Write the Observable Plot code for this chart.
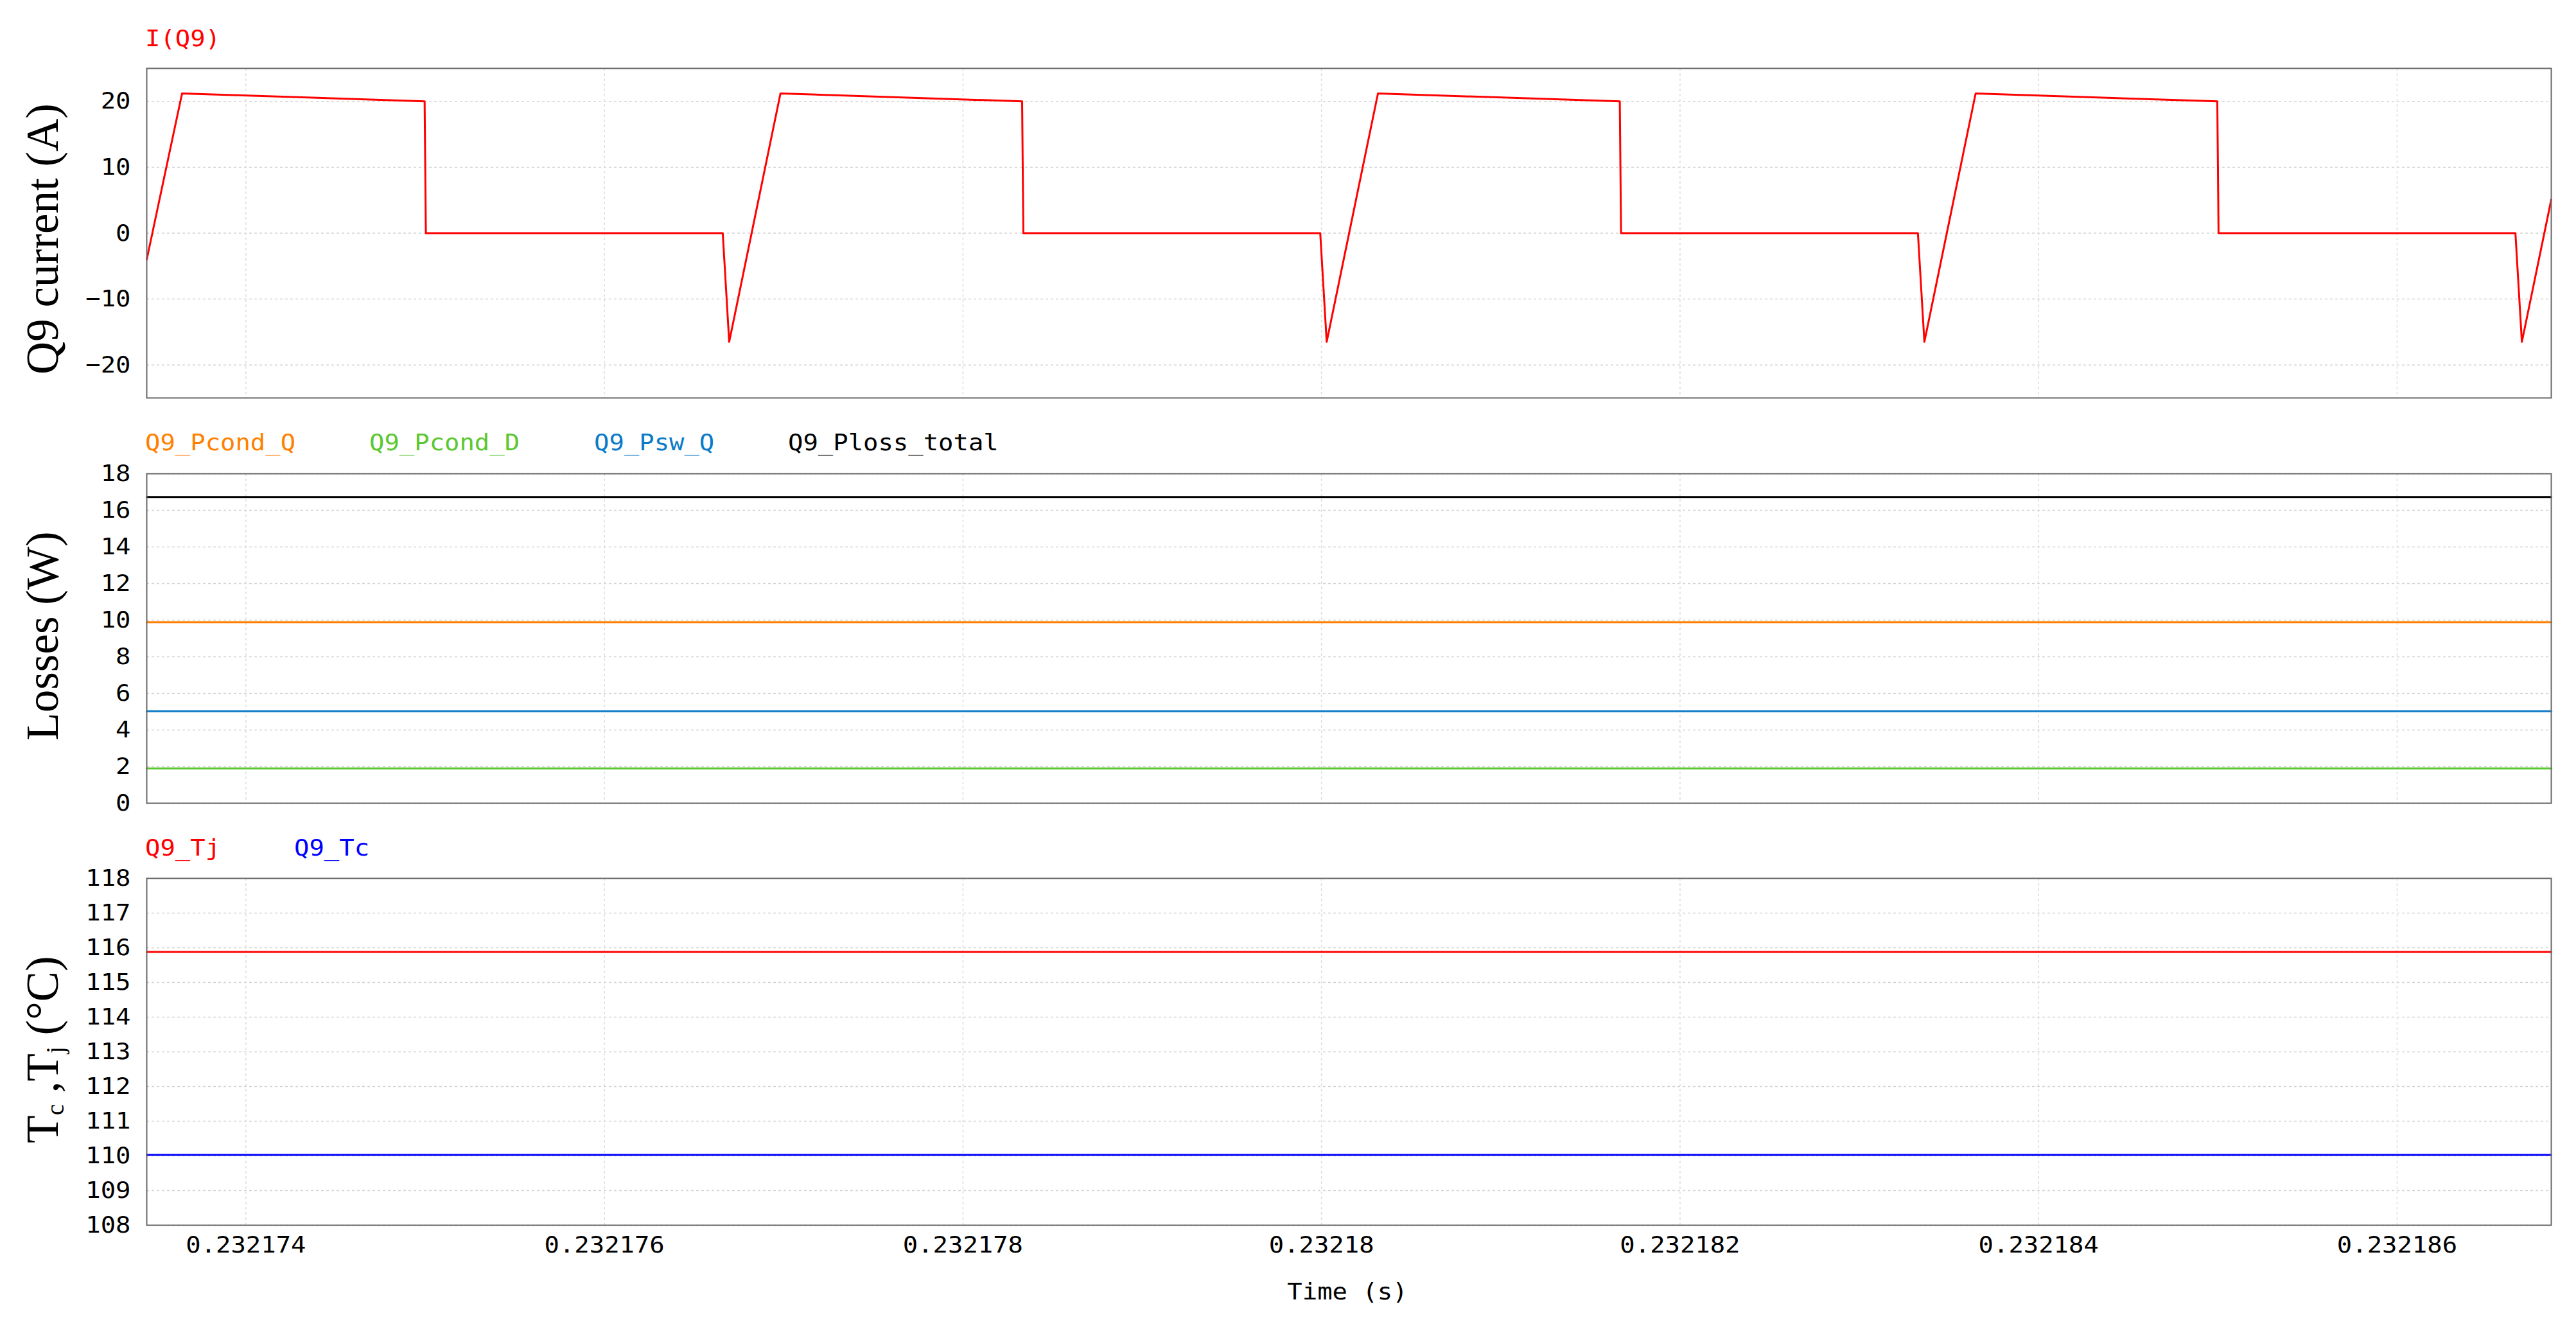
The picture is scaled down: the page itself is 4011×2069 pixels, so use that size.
<!DOCTYPE html>
<html>
<head>
<meta charset="utf-8">
<script src="https://cdn.jsdelivr.net/npm/d3@7"></script>
<script src="https://cdn.jsdelivr.net/npm/@observablehq/plot@0.6"></script>
<style>
html, body { margin: 0; padding: 0; background: #fff; }
#page { position: relative; width: 4011px; height: 2069px; overflow: hidden; background: #fff; }
.panel { position: absolute; left: 0; }
.leg { position: absolute; font-family: "DejaVu Sans Mono", monospace; font-size: 36px; line-height: 36px;
       white-space: nowrap; transform: scaleX(1.08); transform-origin: 0 0; }
.xlabel { position: absolute; font-family: "DejaVu Sans Mono", monospace; font-size: 36px; line-height: 36px;
          white-space: nowrap; transform: translateX(-50%) scaleX(1.08); color: #000; }
.ytitle { position: absolute; font-family: "Liberation Serif", "Times New Roman", serif; font-size: 71px; line-height: 71px;
          white-space: nowrap; transform: translate(-50%, -50%) rotate(-90deg); color: #000; }
.ytitle sub { font-size: 0.55em; vertical-align: baseline; position: relative; top: 0.22em; line-height: 0; }
</style>
</head>
<body>
<div id="page"></div>
<script>
// ---------- data ----------
// Time axis (s)
const timeSpan = [0.232173447, 0.23218686];
const xTicks = [0.232174, 0.232176, 0.232178, 0.23218, 0.232182, 0.232184, 0.232186];
const xTickLabels = ["0.232174", "0.232176", "0.232178", "0.23218", "0.232182", "0.232184", "0.232186"];

// Panel 1: I(Q9) breakpoints
const timeS = [
  0.232173447, 0.232173525, 0.232173644, 0.232174997, 0.232175004, 0.232176660, 0.232176696, 0.232176862, 0.232176982,
  0.232178330, 0.232178337, 0.232179993, 0.232180029, 0.232180195, 0.232180315,
  0.232181664, 0.232181671, 0.232183327, 0.232183363, 0.232183529, 0.232183649,
  0.232184997, 0.232185004, 0.232186660, 0.232186696, 0.232186860
];
const currentA = [
  -4.0, 6.0, 21.2, 20.0, 0, 0, -16.5, 5.4, 21.2,
  20.0, 0, 0, -16.5, 5.4, 21.2,
  20.0, 0, 0, -16.5, 5.4, 21.2,
  20.0, 0, 0, -16.5, 5.1
];
const yTicks1 = [-20, -10, 0, 10, 20];

// Panel 2: losses (W)
const lossNames = ["Q9_Pcond_Q", "Q9_Pcond_D", "Q9_Psw_Q", "Q9_Ploss_total"];
const lossColors = ["#ff8000", "#5ac832", "#0a7ac8", "#000000"];
const pcondQ = [9.89, 9.89];
const pcondD = [1.90, 1.90];
const pswQ = [5.03, 5.03];
const plossTotal = [16.73, 16.73];
const yTicks2 = [0, 2, 4, 6, 8, 10, 12, 14, 16, 18];

// Panel 3: temperatures (°C)
const tempNames = ["Q9_Tj", "Q9_Tc"];
const tempColors = ["#ff0000", "#0000ff"];
const tj = [115.88, 115.88];
const tc = [110.03, 110.03];
const yTicks3 = [108, 109, 110, 111, 112, 113, 114, 115, 116, 117, 118];

// ---------- helpers ----------
const page = document.getElementById("page");
const W = 4011;
const fmtX = d => xTickLabels[d3.minIndex(xTicks, t => Math.abs(t - d))];

function series(values) {
  return timeSpan.map((t, i) => ({ t, v: values[i] }));
}

function stretchText(svg, s) {
  svg.querySelectorAll("text").forEach(t => {
    const tr = t.getAttribute("transform");
    if (tr) t.setAttribute("transform", tr + ` scale(${s},1)`);
    else {
      const x = +(t.getAttribute("x") || 0);
      t.setAttribute("transform", `translate(${x},0) scale(${s},1) translate(${-x},0)`);
    }
  });
}

function panel({ top, height, marginTop, marginBottom, yDomain, yTicks, marks, showX }) {
  const svg = Plot.plot({
    width: W,
    height,
    marginLeft: 228,
    marginRight: 39,
    marginTop,
    marginBottom,
    style: { fontFamily: "DejaVu Sans Mono, monospace", fontSize: "36px", color: "#000", background: "transparent", overflow: "visible" },
    x: { domain: timeSpan, axis: showX ? "bottom" : null, ticks: xTicks, tickFormat: fmtX, tickSize: 0, tickPadding: 17, label: null },
    y: { domain: yDomain, ticks: yTicks, tickSize: 0, tickPadding: 25, label: null },
    marks: [
      Plot.ruleY(yTicks, { stroke: "#d2d2d2", strokeWidth: 1.5, strokeDasharray: "4,4" }),
      Plot.ruleX(xTicks, { stroke: "#d8e2d1", strokeWidth: 1.5, strokeDasharray: "4,4" }),
      ...marks,
      Plot.frame({ stroke: "#666", strokeWidth: 2 })
    ]
  });
  stretchText(svg, 1.08);
  const div = document.createElement("div");
  div.className = "panel";
  div.style.top = top + "px";
  div.appendChild(svg);
  page.appendChild(div);
}

function addDiv(cls, html, left, top, color) {
  const d = document.createElement("div");
  d.className = cls;
  d.innerHTML = html;
  d.style.left = left + "px";
  d.style.top = top + "px";
  if (color) d.style.color = color;
  page.appendChild(d);
}

// ---------- panel 1 ----------
const iq9 = timeS.map((t, i) => ({ t, v: currentA[i] }));
panel({
  top: 0, height: 625, marginTop: 106, marginBottom: 6,
  yDomain: [-25, 25], yTicks: yTicks1, showX: false,
  marks: [Plot.line(iq9, { x: "t", y: "v", stroke: "#ff0000", strokeWidth: 3 })]
});

// ---------- panel 2 ----------
const lossSeries = [pcondQ, pcondD, pswQ, plossTotal];
panel({
  top: 625, height: 626, marginTop: 112, marginBottom: 1,
  yDomain: [0, 18], yTicks: yTicks2, showX: false,
  marks: lossSeries.map((s, k) => Plot.line(series(s), { x: "t", y: "v", stroke: lossColors[k], strokeWidth: 3 }))
});

// ---------- panel 3 ----------
const tempSeries = [tj, tc];
panel({
  top: 1251, height: 818, marginTop: 116, marginBottom: 162,
  yDomain: [108, 118], yTicks: yTicks3, showX: true,
  marks: tempSeries.map((s, k) => Plot.line(series(s), { x: "t", y: "v", stroke: tempColors[k], strokeWidth: 3 }))
});

// ---------- legends / titles ----------
addDiv("leg", "I(Q9)", 226, 42, "#ff0000");
const lossLeft = [226, 575, 925, 1227];
lossNames.forEach((n, k) => addDiv("leg", n, lossLeft[k], 671, lossColors[k]));
const tempLeft = [226, 458];
tempNames.forEach((n, k) => addDiv("leg", n, tempLeft[k], 1302, tempColors[k]));
addDiv("xlabel", "Time (s)", 2098, 1993);

addDiv("ytitle", "Q9 current (A)", 66, 372);
addDiv("ytitle", "Losses (W)", 66, 990);
addDiv("ytitle", "T<sub>c</sub> ,T<sub>j</sub> (°C)", 66, 1634);
</script>
</body>
</html>
